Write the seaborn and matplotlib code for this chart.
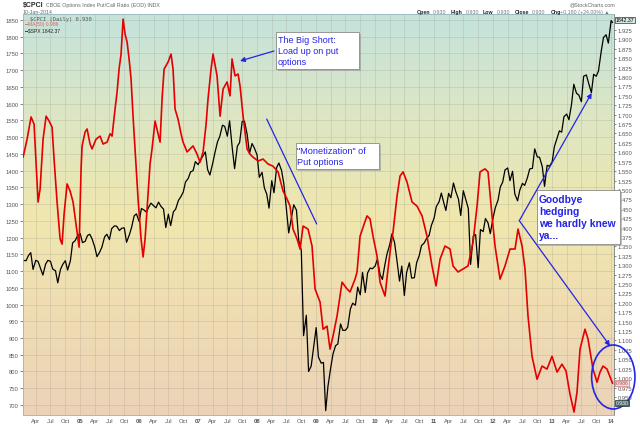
import numpy as np
import pandas as pd
import seaborn as sns
import matplotlib.pyplot as plt
from matplotlib.colors import LinearSegmentedColormap
from matplotlib.patches import Rectangle, Ellipse

# S&P 500, sampled on the 1st and 15th of each month (plus the last close)
spx_2004 = [1112, 1132, 1131, 1146, 1155, 1105, 1132, 1129, 1107, 1088, 1121, 1132,
            1129, 1106, 1101, 1065, 1105, 1120, 1131, 1103, 1130, 1184, 1191, 1205]
spx_2005 = [1212, 1185, 1189, 1206, 1210, 1197, 1172, 1143, 1156, 1171, 1202, 1210,
            1194, 1227, 1235, 1234, 1221, 1228, 1229, 1186, 1208, 1230, 1265, 1271]
spx_2006 = [1248, 1287, 1282, 1276, 1291, 1303, 1295, 1289, 1306, 1294, 1285, 1230,
            1270, 1236, 1277, 1285, 1311, 1321, 1336, 1366, 1377, 1396, 1400, 1427]
spx_2007 = [1418, 1431, 1445, 1456, 1403, 1387, 1421, 1453, 1486, 1502, 1536, 1532,
            1503, 1549, 1465, 1406, 1473, 1484, 1547, 1548, 1508, 1451, 1481, 1468]
spx_2008 = [1447, 1380, 1395, 1349, 1330, 1288, 1370, 1334, 1409, 1423, 1400, 1360,
            1284, 1214, 1260, 1298, 1282, 1192, 1161, 907, 968, 800, 816, 869]
spx_2009 = [931, 843, 825, 827, 683, 756, 811, 852, 877, 882, 942, 923,
            923, 932, 987, 1004, 998, 1052, 1029, 1096, 1036, 1094, 1109, 1107]
spx_2010 = [1115, 1136, 1089, 1075, 1115, 1150, 1178, 1211, 1186, 1136, 1070, 1115,
            1027, 1096, 1125, 1079, 1080, 1125, 1146, 1176, 1184, 1197, 1206, 1236]
spx_2011 = [1258, 1293, 1307, 1333, 1306, 1281, 1332, 1319, 1363, 1338, 1315, 1266,
            1340, 1316, 1287, 1120, 1205, 1209, 1110, 1224, 1218, 1257, 1244, 1212]
spx_2012 = [1258, 1289, 1312, 1351, 1366, 1402, 1408, 1370, 1398, 1330, 1310, 1342,
            1362, 1356, 1379, 1405, 1407, 1465, 1441, 1440, 1412, 1353, 1416, 1413]
spx_2013 = [1426, 1472, 1498, 1519, 1515, 1561, 1569, 1552, 1598, 1658, 1631, 1626,
            1606, 1682, 1686, 1661, 1633, 1688, 1682, 1698, 1757, 1798, 1806, 1781]
spx_2014 = [1848, 1842.37]

# $CPCI MA(50): years after 1 Jan 2004, and ratio values
ma_years = [0.034, 0.102, 0.169, 0.220, 0.254, 0.288, 0.322, 0.373, 0.424, 0.475,
            0.525, 0.559, 0.610, 0.661, 0.695, 0.729, 0.780, 0.831, 0.881, 0.932,
            0.983, 1.017, 1.034, 1.085, 1.119, 1.169, 1.203, 1.271, 1.339, 1.390,
            1.458, 1.508, 1.542, 1.593, 1.627, 1.661, 1.695, 1.729, 1.763, 1.797,
            1.831, 1.864, 1.898, 1.932, 1.983, 2.034, 2.068, 2.102, 2.136, 2.186,
            2.220, 2.271, 2.322, 2.356, 2.390, 2.424, 2.492, 2.542, 2.576, 2.610,
            2.661, 2.712, 2.746, 2.814, 2.864, 2.915, 2.983, 3.034, 3.085, 3.136,
            3.169, 3.220, 3.254, 3.322, 3.373, 3.424, 3.492, 3.542, 3.576, 3.627,
            3.678, 3.712, 3.763, 3.831, 3.881, 3.932, 4.017, 4.102, 4.186, 4.271,
            4.356, 4.441, 4.508, 4.559, 4.610, 4.678, 4.729, 4.780, 4.864, 4.932,
            4.983, 5.068, 5.119, 5.186, 5.237, 5.288, 5.356, 5.441, 5.525, 5.576,
            5.661, 5.695, 5.746, 5.814, 5.864, 5.915, 5.966, 6.034, 6.085, 6.169,
            6.220, 6.271, 6.305, 6.373, 6.424, 6.475, 6.542, 6.593, 6.627, 6.712,
            6.797, 6.881, 6.966, 7.034, 7.102, 7.186, 7.271, 7.322, 7.407, 7.492,
            7.576, 7.661, 7.729, 7.780, 7.864, 7.915, 7.983, 8.034, 8.119, 8.203,
            8.288, 8.373, 8.424, 8.492, 8.542, 8.593, 8.661, 8.746, 8.831, 8.915,
            9.000, 9.085, 9.169, 9.237, 9.305, 9.373, 9.424, 9.475, 9.559, 9.610,
            9.695, 9.763, 9.814, 9.864, 9.932, 10.027]
ma_values = [1.587, 1.635, 1.694, 1.675, 1.569, 1.468, 1.502, 1.635, 1.696, 1.683,
             1.667, 1.582, 1.468, 1.370, 1.356, 1.436, 1.516, 1.497, 1.468, 1.409,
             1.348, 1.556, 1.617, 1.654, 1.662, 1.622, 1.609, 1.635, 1.643, 1.622,
             1.627, 1.649, 1.643, 1.715, 1.760, 1.821, 1.861, 1.954, 1.914, 1.893,
             1.848, 1.795, 1.696, 1.609, 1.476, 1.370, 1.322, 1.370, 1.449, 1.569,
             1.609, 1.683, 1.649, 1.627, 1.742, 1.821, 1.840, 1.861, 1.821, 1.715,
             1.688, 1.649, 1.627, 1.601, 1.609, 1.617, 1.595, 1.574, 1.601, 1.675,
             1.742, 1.821, 1.861, 1.803, 1.696, 1.768, 1.787, 1.750, 1.848, 1.803,
             1.808, 1.776, 1.696, 1.609, 1.595, 1.587, 1.577, 1.582, 1.569, 1.563,
             1.548, 1.497, 1.476, 1.457, 1.396, 1.370, 1.343, 1.404, 1.396, 1.351,
             1.237, 1.202, 1.130, 1.138, 1.077, 1.112, 1.165, 1.255, 1.237, 1.229,
             1.263, 1.282, 1.377, 1.409, 1.431, 1.423, 1.377, 1.324, 1.255, 1.218,
             1.290, 1.356, 1.388, 1.484, 1.537, 1.548, 1.521, 1.489, 1.468, 1.457,
             1.431, 1.377, 1.298, 1.245, 1.316, 1.351, 1.343, 1.298, 1.282, 1.290,
             1.298, 1.361, 1.457, 1.548, 1.556, 1.548, 1.431, 1.351, 1.263, 1.298,
             1.343, 1.343, 1.396, 1.351, 1.290, 1.165, 1.058, 0.997, 1.032, 1.024,
             1.058, 1.016, 1.037, 1.019, 0.957, 0.910, 0.963, 1.077, 1.130, 1.104,
             1.024, 0.989, 1.016, 1.032, 1.024, 0.986]

left_ticks = list(range(700, 1851, 50))
right_ticks = [round(0.950 + 0.025 * i, 3) for i in range(40)]
month_names = {4: "Apr", 7: "Jul", 10: "Oct"}

spx_values = (spx_2004 + spx_2005 + spx_2006 + spx_2007 + spx_2008 + spx_2009
              + spx_2010 + spx_2011 + spx_2012 + spx_2013 + spx_2014)
spx_dates = list(pd.date_range("2004-01-01", "2014-01-01", freq="SMS")) + [pd.Timestamp("2014-01-10")]
ma_dates = pd.Timestamp("2004-01-01") + pd.to_timedelta(np.array(ma_years) * 365.25, unit="D")

sns.set_style("white")
plt.rcParams["font.family"] = ["Liberation Sans", "DejaVu Sans"]

fig = plt.figure(figsize=(6.4, 4.27), dpi=100)
ax = fig.add_axes([22.7 / 640, 1 - 416 / 427, (614 - 22.7) / 640, (416 - 15) / 427])

# background gradient
cmap = LinearSegmentedColormap.from_list(
    "bg", ["#c4e3dc", "#dce6c4", "#efe7ae", "#efdcb2", "#ecd3b9"])
grad = np.linspace(0, 1, 256).reshape(-1, 1)
ax.imshow(grad, extent=[0, 1, 0, 1], transform=ax.transAxes, aspect="auto",
          cmap=cmap, zorder=0, origin="upper")

sns.lineplot(x=spx_dates, y=spx_values, ax=ax, color="black", lw=0.9, zorder=3)

ax2 = ax.twinx()
sns.lineplot(x=ma_dates, y=ma_values, ax=ax2, color="#e40000", lw=1.2, zorder=3)

xmin, xmax = pd.Timestamp("2004-01-11"), pd.Timestamp("2014-01-19")
ax.set_xlim(xmin, xmax)
ax.set_ylim(670, 1868)
ax2.set_ylim(0.902, 1.9675)

qticks = pd.date_range("2004-04-01", "2014-01-01", freq="QS")
ax.set_xticks(qticks)
ax.set_xticklabels([month_names.get(d.month, f"{d.year % 100:02d}") for d in qticks])
for d, lab in zip(qticks, ax.get_xticklabels()):
    if d.month == 1:
        lab.set_fontweight("bold")
        lab.set_color("black")
ax.set_yticks(left_ticks)
ax.set_yticklabels([str(v) for v in left_ticks])
ax2.set_yticks(right_ticks)
ax2.set_yticklabels([f"{v:.3f}" for v in right_ticks])

ax.grid(True, color="#9a9a8a", alpha=0.35, lw=0.5)
ax.tick_params(axis="x", length=0, labelsize=4.2, colors="#555555", pad=2.5)
ax.tick_params(axis="y", length=2, width=0.5, labelsize=4.2, colors="#555555", pad=1)
ax2.tick_params(axis="y", length=1.5, width=0.5, labelsize=4.2, colors="#555555", pad=1)
for a in (ax, ax2):
    a.set_xlabel("")
    a.set_ylabel("")
    for s in a.spines.values():
        s.set_linewidth(0.6)
        s.set_color("#9fbcbc")
ax2.spines["right"].set_linestyle(":")
ax2.spines["right"].set_color("#777777")

# overlay in figure pixels (y down) for header and annotations
ov = fig.add_axes([0, 0, 1, 1])
ov.set_xlim(0, 640)
ov.set_ylim(427, 0)
ov.axis("off")
ov.set_zorder(10)

ov.text(22.7, 6, "\\$CPCI", fontsize=5.0, weight="bold", va="center", ha="left")
ov.text(45.5, 6, "CBOE Options Index Put/Call Ratio (EOD) INDX", fontsize=3.8,
        color="#666666", va="center", ha="left")
ov.text(22.7, 12.8, "10-Jan-2014", fontsize=3.8, color="#666666", va="center", ha="left")
ov.text(615, 5, "@StockCharts.com", fontsize=3.8, color="#666666", va="center", ha="right")
for x, s, bold in [(416.5, "Open", True), (433, "0.930", False), (451, "High", True),
                   (465.5, "0.930", False), (483, "Low", True), (497, "0.930", False),
                   (515, "Close", True), (532, "0.930", False), (551, "Chg", True),
                   (560, "+0.180 (+24.00%) \u25b2", False)]:
    ov.text(x, 12.7, s, fontsize=3.8, va="center", ha="left",
            weight="bold" if bold else "normal", color="#222222" if bold else "#777777")

mono = ["DejaVu Sans Mono"]
ov.text(30, 19.3, "\\$CPCI (Daily) 0.930", fontsize=3.9, family=mono, color="#555555", va="center")
ov.text(25, 24.6, "\u2501MA(50) 0.986", fontsize=3.6, color="#e06060", va="center")
ov.text(25, 30.7, "\u2501\\$SPX 1842.37", fontsize=3.6, color="#222222", va="center")

# value flags at right axis
ov.text(615.5, 21, "1842.37", fontsize=3.7, color="black", va="center", ha="left",
        bbox=dict(boxstyle="square,pad=0.15", fc="#d6e8e6", ec="#333333", lw=0.5))
ov.text(615.5, 384, "0.986", fontsize=3.7, color="#d03030", va="center", ha="left",
        bbox=dict(boxstyle="square,pad=0.15", fc="#dcebf0", ec="#e07070", lw=0.5))
ov.text(615.5, 404, "0.930", fontsize=3.7, color="white", va="center", ha="left",
        bbox=dict(boxstyle="square,pad=0.15", fc="#4d6a6a", ec="#223333", lw=0.5))

blue = "#2424e6"
arrow = dict(arrowstyle="-|>", color=blue, lw=0.9, mutation_scale=7, shrinkA=0, shrinkB=0)
ov.annotate("", xy=(240, 62), xytext=(274, 52), arrowprops=arrow)
ov.plot([266.7, 316.7], [120, 225], color=blue, lw=0.9)
ov.annotate("", xy=(591.7, 94), xytext=(519.3, 221.7), arrowprops=arrow)
ov.annotate("", xy=(610, 347), xytext=(519.3, 221.7), arrowprops=arrow)


def note(x0, y0, x1, y1, text, tx, size, weight="normal"):
    ov.add_patch(Rectangle((x0 + 2, y0 + 2), x1 - x0, y1 - y0, fc="#999999", ec="none", alpha=0.6))
    ov.add_patch(Rectangle((x0, y0), x1 - x0, y1 - y0, fc="white", ec="#8a8a8a", lw=0.6))
    ov.text(tx, (y0 + y1) / 2, text, fontsize=size, color=blue, weight=weight,
            va="center", ha="left", linespacing=1.22)


note(276, 33, 359, 70, "The Big Short:\nLoad up on put\noptions", 277.5, 6.5)
note(296, 144, 379, 170, "\"Monetization\" of\nPut options", 297, 6.6)
note(537, 191, 620, 245, "Goodbye\nhedging\nwe hardly knew\nya...", 539, 7.4, "bold")

ov.add_patch(Ellipse((613.3, 378), 43.3, 64, fill=False, ec=blue, lw=1.2))

fig.savefig("out.png", dpi=100)
